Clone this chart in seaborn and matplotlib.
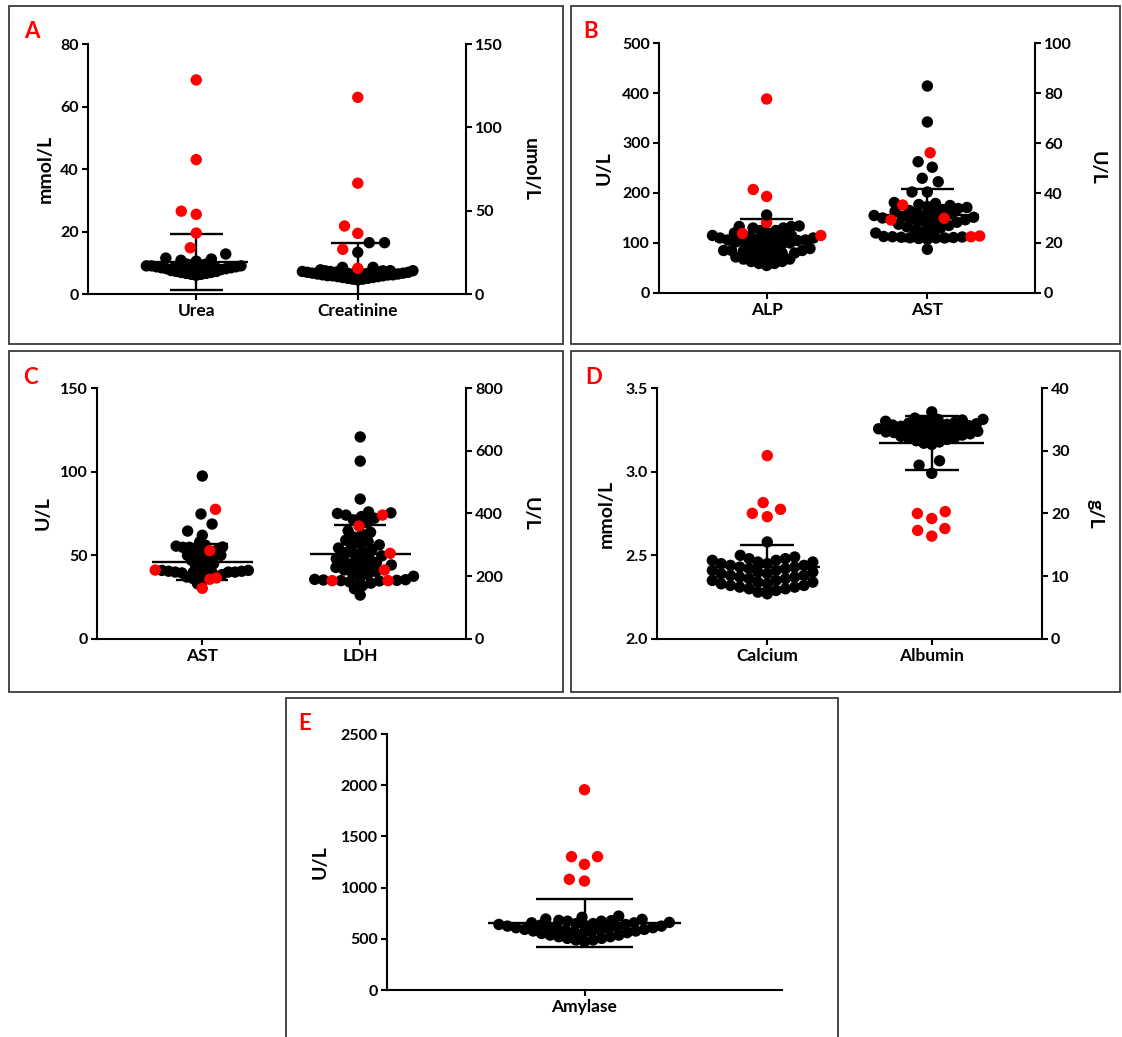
import warnings
warnings.filterwarnings("ignore")
import numpy as np
import pandas as pd
import matplotlib
matplotlib.use("Agg")
import matplotlib.pyplot as plt
from matplotlib.patches import Rectangle
from matplotlib.collections import PathCollection
import seaborn as sns

# ---------------- data ----------------
urea_black = [6.0, 6.3, 6.3, 6.6, 6.6, 6.9, 6.9, 7.2, 7.2, 7.5, 7.5, 7.8, 7.8, 8.1, 8.1, 8.4, 8.4,
              8.7, 8.7, 9.0, 9.0, 7.8, 8.1, 8.1, 8.4, 8.4, 8.7, 8.7, 9.0, 9.0, 9.3, 9.3, 9.6, 9.6,
              9.9, 9.9, 10.5, 10.8, 11.2, 11.5, 12.8]
urea_red = [68.5, 43.0, 26.5, 25.5, 19.5, 14.8]
creat_black = [8.4, 8.9, 8.9, 9.4, 9.4, 9.9, 9.9, 10.4, 10.4, 10.9, 10.9, 11.4, 11.4, 11.9, 11.9,
               12.4, 12.4, 12.9, 12.9, 13.4, 13.4, 13.9, 13.9, 11.0, 11.5, 11.5, 12.0, 12.0, 12.5,
               12.5, 13.0, 13.0, 13.5, 13.5, 14.0, 14.0, 14.5, 14.5, 16.0, 16.0, 25.0, 30.8, 30.8]
creat_red = [118.0, 66.5, 40.8, 36.4, 26.8, 15.4]

alp_black = [55, 59, 59, 63, 63, 68, 68, 72, 72, 76, 76, 80, 80, 85, 85,
             80, 85, 85, 89, 89, 93, 93, 98, 98, 102, 102, 106, 106, 110, 110, 113, 113,
             100, 105, 105, 110, 110, 115, 115, 120, 120, 125, 125, 130, 130, 133, 133, 134, 156]
alp_red = [388, 207, 193, 141, 119, 115]
astb_black = [17.5, 21.5, 21.8, 22.0, 22.0, 22.1, 22.2, 22.3, 22.4, 22.5, 22.6, 24.0, 24.5, 25.0,
              25.5, 26.0, 26.5, 27.0, 27.5, 28.0, 28.3, 28.6, 29.0, 29.3, 29.6, 30.0, 30.3, 30.6,
              31.0, 31.3, 31.6, 32.0, 32.3, 32.6, 33.0, 33.4, 33.8, 34.2, 34.6, 35.0, 35.4, 35.8,
              36.2, 40.4, 40.4, 44.5, 45.9, 50.3, 52.5, 68.4, 82.8]
astb_red = [56.1, 35.2, 29.9, 29.2, 22.8, 22.5]

astc_black = [33, 35, 36, 37, 38, 38.5, 39, 39.5, 39.5, 40, 40, 40, 40, 40.5, 40.5, 41, 41, 42, 43,
              44, 45, 46, 47, 48, 49, 49.5, 50, 50, 51, 52, 53, 54, 54.8, 54.8, 55, 55.5, 56, 58,
              62, 64.5, 68.7, 74.7, 97.4]
astc_red = [77.5, 52.8, 41.2, 36.5, 35.7, 30.3]
ldh_black = [140, 160, 170, 178, 182, 185, 186, 187, 188, 189, 190, 195, 200, 205, 210, 215, 220,
             225, 228, 232, 236, 240, 244, 248, 252, 256, 260, 265, 270, 275, 280, 285, 290, 295,
             300, 305, 310, 315, 325, 335, 340, 345, 370, 380, 385, 390, 395, 400, 402, 405, 446,
             567, 644]
ldh_red = [395, 360, 273, 220, 186, 186]

ca_black = [2.27, 2.28, 2.29, 2.30, 2.30, 2.31, 2.31, 2.32, 2.32, 2.33, 2.33, 2.34, 2.34, 2.35, 2.35,
            2.36, 2.36, 2.37, 2.37, 2.38, 2.38, 2.39, 2.39, 2.40, 2.40, 2.41, 2.41, 2.42, 2.42, 2.43,
            2.43, 2.44, 2.44, 2.45, 2.45, 2.46, 2.46, 2.47, 2.47, 2.48, 2.48, 2.49, 2.50, 2.58]
ca_red = [3.096, 2.815, 2.775, 2.751, 2.731]
alb_black = [26.4, 27.7, 28.4, 31.0, 31.2, 31.4, 31.6, 31.8, 32.0, 32.1, 32.2, 32.3, 32.4, 32.5,
             32.6, 32.7, 32.8, 32.9, 33.0, 33.0, 33.1, 33.2, 33.3, 33.4, 33.5, 33.6, 33.7, 33.8,
             33.9, 34.0, 34.0, 34.1, 34.2, 34.3, 34.4, 34.5, 34.6, 34.7, 34.8, 34.9, 35.0, 35.0,
             35.2, 36.2]
alb_red = [20.3, 20.0, 19.2, 17.6, 17.3, 16.4]

amy_black = [472, 488, 488, 504, 504, 520, 520, 536, 536, 552, 552, 568, 568, 584, 584, 600, 600,
             616, 616, 632, 632, 648, 648, 560, 576, 576, 592, 592, 608, 608, 624, 624, 640, 640,
             656, 656, 672, 672, 660, 677, 680, 690, 693, 710, 722]
amy_red = [1956, 1302, 1302, 1227, 1081, 1064]

# mean and SD
means = {"Urea": 10.25, "Creatinine": 14.5, "ALP": 103.5, "AST_B": 31.4,
         "AST_C": 46.0, "LDH": 272.0, "Calcium": 2.43, "Albumin": 31.3, "Amylase": 656.0}
sds = {"Urea": 8.95, "Creatinine": 16.0, "ALP": 43.7, "AST_B": 10.4,
       "AST_C": 11.0, "LDH": 92.0, "Calcium": 0.13, "Albumin": 4.3, "Amylase": 233.0}

# ---------------- style ----------------
sns.set_style("ticks")
plt.rcParams['font.family'] = ['Lato', 'DejaVu Sans']
plt.rcParams['font.weight'] = 'bold'
for k in ['axes.edgecolor', 'xtick.color', 'ytick.color', 'text.color', 'axes.labelcolor']:
    plt.rcParams[k] = 'black'

RED = '#FF0000'
PAL = {'normal': 'black', 'abnormal': RED}
DISPLAY = 8.2      # drawn dot diameter (pt)
OUTER = 10.5       # layout spacing for the sparse outer points (pt)
W, H = 1122, 1037
fig = plt.figure(figsize=(W / 100, H / 100), dpi=100)


def rect(l, t, r, b):
    return [l / W, 1 - b / H, (r - l) / W, (b - t) / H]


def make_df(cat, black, red):
    return pd.DataFrame({'cat': [cat] * (len(black) + len(red)),
                         'val': list(black) + list(red),
                         'grp': ['normal'] * len(black) + ['abnormal'] * len(red)})


def swarm(ax, cat, black, red, order, layout, band):
    """Dense core is laid out with a small dot (so dots overlap, as in the
    reference); sparse outer points are laid out with wider spacing."""
    df = make_df(cat, black, red)
    lo, hi = band
    inner = (df['val'] >= lo) & (df['val'] <= hi)
    for sub, size in [(df[inner], layout), (df[~inner], OUTER)]:
        if len(sub):
            sns.swarmplot(data=sub, x='cat', y='val', hue='grp', order=order,
                          palette=PAL, size=size, linewidth=0, legend=False, ax=ax, zorder=3)


def meansd(ax, x, key, mw, cw):
    m, s = means[key], sds[key]
    kw = dict(color='black', lw=1.7, zorder=2)
    ax.hlines(m, x - mw, x + mw, **kw)
    ax.vlines(x, m - s, m + s, **kw)
    ax.hlines([m - s, m + s], x - cw, x + cw, **kw)


def style(ax, side):
    ax.tick_params(axis='both', length=4.5, width=1.5, direction='out', labelsize=11.5, pad=2)
    for sp in ax.spines.values():
        sp.set_linewidth(1.5)
        sp.set_visible(False)
    if side == 'left':
        ax.spines['left'].set_visible(True)
        ax.spines['bottom'].set_visible(True)
    else:
        ax.spines['right'].set_visible(True)


panels = [
    dict(letter='A', frame=(9, 6, 563, 344), axes=(88, 44, 466, 294), letter_xy=(32, 32),
         cats=['Urea', 'Creatinine'], keys=['Urea', 'Creatinine'],
         data=[(urea_black, urea_red), (creat_black, creat_red)], layout=[3.5, 3.5],
         band=[(0, 10.2), (0, 15.0)],
         ylim=[(0, 80), (0, 150)], yticks=[[0, 20, 40, 60, 80], [0, 50, 100, 150]],
         ylabels=['mmol/L', 'umol/L'], labx=[-0.114, 1.169], fmt=['{:.0f}', '{:.0f}']),
    dict(letter='B', frame=(571, 6, 1120, 344), axes=(659, 43, 1035, 293), letter_xy=(591, 32),
         cats=['ALP', 'AST'], keys=['ALP', 'AST_B'],
         data=[(alp_black, alp_red), (astb_black, astb_red)], layout=[5.5, 6.0],
         band=[(0, 145), (0, 38)],
         ylim=[(0, 500), (0, 100)], yticks=[[0, 100, 200, 300, 400, 500], [0, 20, 40, 60, 80, 100]],
         ylabels=['U/L', 'U/L'], labx=[-0.145, 1.164], fmt=['{:.0f}', '{:.0f}']),
    dict(letter='C', frame=(9, 351, 563, 692), axes=(96.5, 388, 466, 639), letter_xy=(30, 378),
         cats=['AST', 'LDH'], keys=['AST_C', 'LDH'],
         data=[(astc_black, astc_red), (ldh_black, ldh_red)], layout=[4.6, 6.0],
         band=[(0, 60), (0, 420)],
         ylim=[(0, 150), (0, 800)], yticks=[[0, 50, 100, 150], [0, 200, 400, 600, 800]],
         ylabels=['U/L', 'U/L'], labx=[-0.145, 1.173], fmt=['{:.0f}', '{:.0f}']),
    dict(letter='D', frame=(571, 351, 1120, 692), axes=(657, 388, 1042, 639), letter_xy=(594, 378),
         cats=['Calcium', 'Albumin'], keys=['Calcium', 'Albumin'],
         data=[(ca_black, ca_red), (alb_black, alb_red)], layout=[6.5, 5.5],
         band=[(0, 2.55), (30.5, 40)],
         ylim=[(2.0, 3.5), (0, 40)], yticks=[[2.0, 2.5, 3.0, 3.5], [0, 10, 20, 30, 40]],
         ylabels=['mmol/L', 'g/L'], labx=[-0.132, 1.138], fmt=['{:.1f}', '{:.0f}']),
]

all_axes = []
for p in panels:
    l, t, r, b = p['frame']
    fig.add_artist(Rectangle((l / W, 1 - b / H), (r - l) / W, (b - t) / H, transform=fig.transFigure,
                             fill=False, ec='#3a3a3a', lw=1.3))
    fig.text(p['letter_xy'][0] / W, 1 - p['letter_xy'][1] / H, p['letter'], color=RED,
             fontsize=16, fontweight='bold', ha='center', va='center')
    ax = fig.add_axes(rect(*p['axes']))
    ax2 = ax.twinx()
    for i, a in enumerate([ax, ax2]):
        blk, red = p['data'][i]
        swarm(a, p['cats'][i], blk, red, p['cats'], p['layout'][i], p['band'][i])
        meansd(a, i, p['keys'][i], 0.32, 0.165)
        a.set_ylim(*p['ylim'][i])
        a.set_yticks(p['yticks'][i])
        a.set_yticklabels([p['fmt'][i].format(v) for v in p['yticks'][i]])
        a.set_xlabel('')
        style(a, 'left' if i == 0 else 'right')
    ax.set_ylabel(p['ylabels'][0], fontsize=14, fontweight='bold')
    ax.yaxis.set_label_coords(p['labx'][0], 0.5)
    ax.yaxis.label.set_va('center')
    ax2.set_ylabel(p['ylabels'][1], fontsize=14, fontweight='bold', rotation=270)
    ax2.yaxis.set_label_coords(p['labx'][1], 0.5)
    ax2.yaxis.label.set_va('center')
    ax.set_xlim(-0.67, 1.67)
    ax.set_xticks([0, 1])
    ax.set_xticklabels(p['cats'], fontsize=12.5)
    all_axes += [ax, ax2]

# panel E
fig.add_artist(Rectangle((286 / W, 1 - 1045 / H), (838 - 286) / W, (1045 - 698) / H,
                         transform=fig.transFigure, fill=False, ec='#3a3a3a', lw=1.3))
fig.text(305 / W, 1 - 724 / H, 'E', color=RED, fontsize=16, fontweight='bold', ha='center', va='center')
axe = fig.add_axes(rect(387, 734, 782, 990))
swarm(axe, 'Amylase', amy_black, amy_red, ['Amylase'], 6.0, (0, 800))
meansd(axe, 0, 'Amylase', 0.245, 0.124)
axe.set_ylim(0, 2500)
axe.set_yticks([0, 500, 1000, 1500, 2000, 2500])
axe.set_xlabel('')
style(axe, 'left')
axe.set_ylabel('U/L', fontsize=14, fontweight='bold')
axe.yaxis.set_label_coords(-0.17, 0.5)
axe.yaxis.label.set_va('center')
axe.set_xlim(-0.5, 0.5)
axe.set_xticks([0])
axe.set_xticklabels(['Amylase'], fontsize=12.5)
all_axes.append(axe)

# compute the swarm layout once, then freeze it and draw the dots at display size
fig.canvas.draw()
for a in all_axes:
    for coll in a.collections:
        if isinstance(coll, PathCollection):
            if 'draw' in vars(coll):
                del coll.draw
            coll.set_sizes([DISPLAY ** 2])

fig.savefig('out.png', dpi=100, facecolor='white')
